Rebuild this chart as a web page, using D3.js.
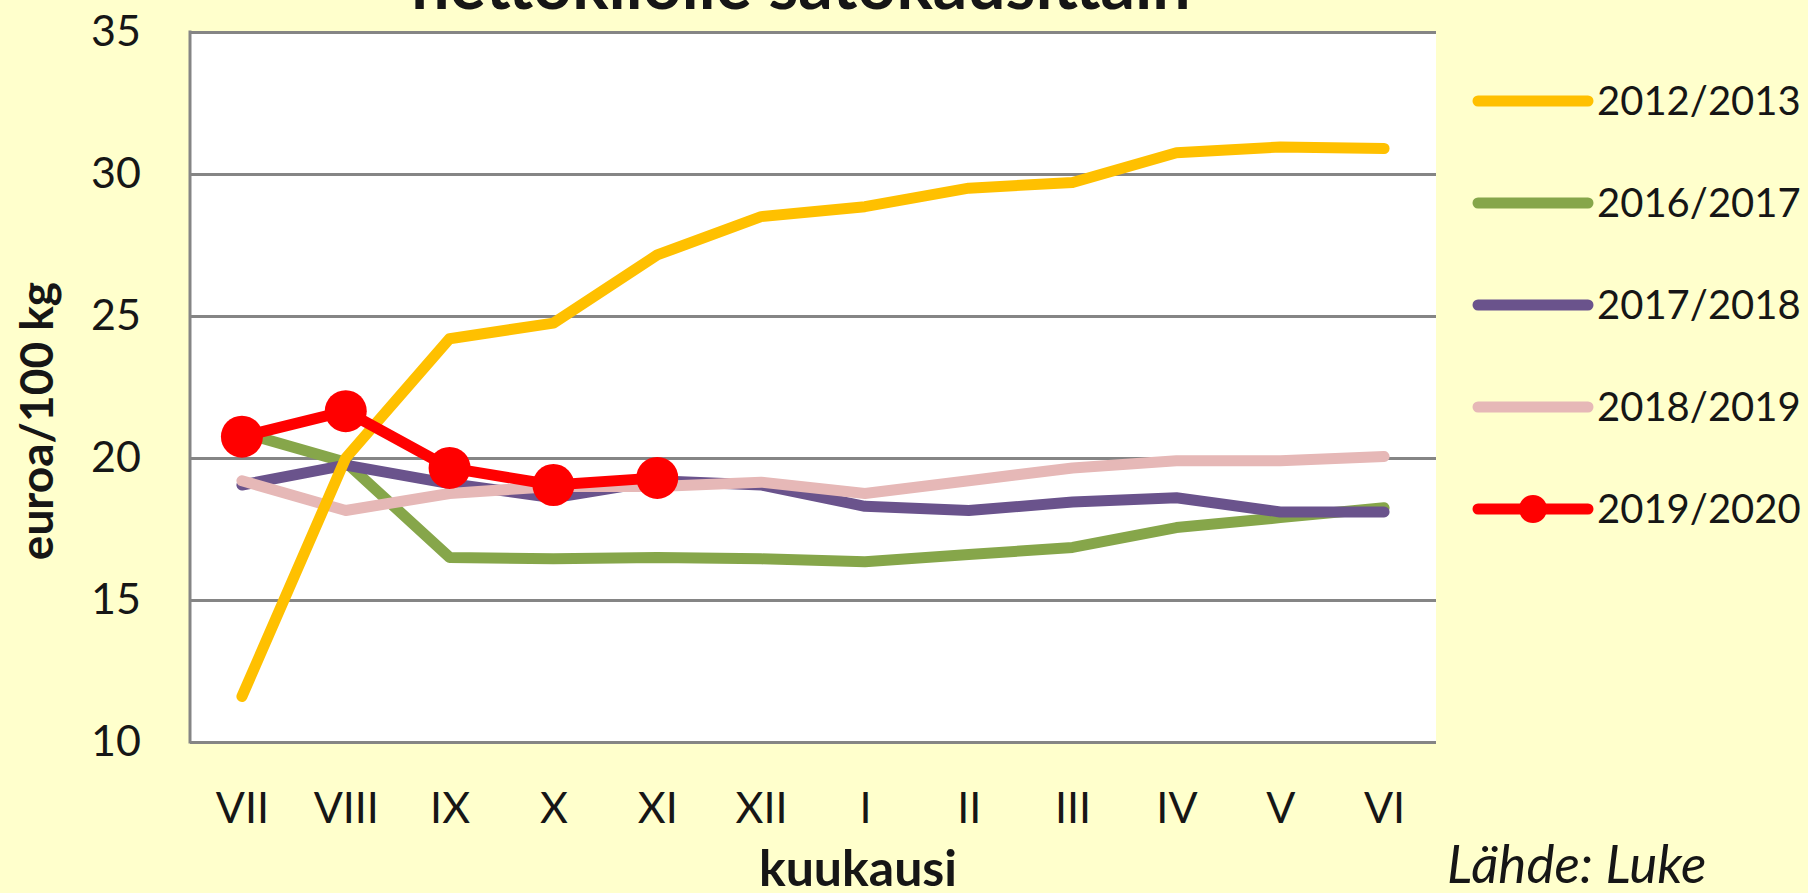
<!DOCTYPE html>
<html>
<head>
<meta charset="utf-8">
<script src="https://cdn.jsdelivr.net/npm/d3@7"></script>
<style>
  html, body { margin: 0; padding: 0; background: #ffffcc; }
  svg { display: block; font-family: Lato, 'Open Sans', sans-serif; }
</style>
</head>
<body>
<svg width="1808" height="893"></svg>
<script>
// kuukaudet satokauden järjestyksessä
const months = ['VII', 'VIII', 'IX', 'X', 'XI', 'XII', 'I', 'II', 'III', 'IV', 'V', 'VI']
const yTicks = [10, 15, 20, 25, 30, 35]

const seasons = ['2012/2013', '2016/2017', '2017/2018', '2018/2019', '2019/2020']
const colors = ['#ffc000', '#86a64a', '#6a538c', '#e6b8b7', '#ff0000']

const v2012 = [11.6, 20.0, 24.2, 24.75, 27.15, 28.5, 28.85, 29.5, 29.7, 30.75, 30.95, 30.9]
const v2016 = [20.9, 19.85, 16.5, 16.45, 16.5, 16.45, 16.35, 16.6, 16.85, 17.55, 17.9, 18.25]
const v2017 = [19.05, 19.75, 19.1, 18.6, 19.2, 19.05, 18.3, 18.15, 18.45, 18.6, 18.1, 18.1]
const v2018 = [19.2, 18.15, 18.75, 19.0, 19.0, 19.15, 18.75, 19.2, 19.65, 19.9, 19.9, 20.05]
const v2019 = [20.75, 21.65, 19.65, 19.05, 19.3]

const values = [v2012, v2016, v2017, v2018, v2019]
const series = seasons.map((name, i) => ({
  name,
  color: colors[i],
  values: values[i],
  markers: name == '2019/2020',
}))
// piirtojärjestys: keltainen vihreän/violetin/vaaleanpunaisen päälle, punainen ylimmäksi
const drawOrder = [1, 2, 3, 0, 4]

const plot = { left: 190, right: 1436, top: 32, bottom: 742 }
const grid = '#858585'
const ink = '#161616'

const svg = d3.select('svg')

const x = d3.scalePoint().domain(months).range([plot.left, plot.right]).padding(0.5)
const y = d3.scaleLinear().domain([10, 35]).range([plot.bottom, plot.top])

svg.append('rect')
  .attr('x', plot.left).attr('y', plot.top)
  .attr('width', plot.right - plot.left).attr('height', plot.bottom - plot.top)
  .attr('fill', '#fff')

// vaakaviivat + y-akselin luvut
const yAxis = svg.append('g')
  .attr('transform', `translate(${ plot.left },0)`)
  .call(d3.axisLeft(y).tickValues(yTicks).tickSize(-(plot.right - plot.left)).tickPadding(49))
yAxis.select('.domain').remove()
yAxis.selectAll('line').attr('stroke', grid).attr('stroke-width', 3)
yAxis.selectAll('text')
  .attr('font-size', 43).attr('fill', ink).attr('font-family', 'Lato')

svg.append('line')
  .attr('x1', plot.left).attr('x2', plot.left)
  .attr('y1', plot.top - 1.5).attr('y2', plot.bottom + 1.5)
  .attr('stroke', grid).attr('stroke-width', 3)

const xAxis = svg.append('g')
  .attr('transform', `translate(0,${ plot.bottom })`)
  .call(d3.axisBottom(x).tickSize(0).tickPadding(50))
xAxis.select('.domain').remove()
xAxis.selectAll('text')
  .attr('font-size', 43).attr('fill', ink).attr('font-family', 'Lato')

const line = d3.line()
  .x((d, i) => x(months[i]))
  .y(d => y(d))

const lines = svg.append('g')
drawOrder.map(i => series[i]).forEach(s => {
  lines.append('path')
    .datum(s.values)
    .attr('d', line)
    .attr('fill', 'none')
    .attr('stroke', s.color)
    .attr('stroke-width', 11)
    .attr('stroke-linejoin', 'round')
    .attr('stroke-linecap', 'round')
  if (s.markers) {
    lines.selectAll(null)
      .data(s.values).join('circle')
      .attr('cx', (d, i) => x(months[i]))
      .attr('cy', d => y(d))
      .attr('r', 21)
      .attr('fill', s.color)
  }
})

// selite
const legend = svg.append('g').attr('transform', 'translate(1478, 101)')
const rows = legend.selectAll('g')
  .data(series).join('g')
  .attr('transform', (d, i) => `translate(0,${ i * 102 })`)
rows.append('line')
  .attr('x1', 0).attr('x2', 110)
  .attr('stroke', d => d.color)
  .attr('stroke-width', 11)
  .attr('stroke-linecap', 'round')
rows.filter(d => d.markers).append('circle')
  .attr('cx', 55).attr('r', 14)
  .attr('fill', d => d.color)
rows.append('text')
  .attr('x', 119).attr('dy', '0.36em')
  .attr('font-size', 40).attr('fill', ink)
  .text(d => d.name)

// otsikon alarivi (yläosa leikkautuu kuvan reunaan)
svg.append('text')
  .attr('x', 801).attr('y', 9)
  .attr('text-anchor', 'middle')
  .attr('font-size', 68).attr('font-weight', 700).attr('fill', ink)
  .text('nettokilolle satokausittain')

svg.append('text')
  .attr('transform', 'translate(53,421) rotate(-90)')
  .attr('text-anchor', 'middle')
  .attr('font-size', 46).attr('font-weight', 700).attr('fill', ink)
  .text('euroa/100 kg')

svg.append('text')
  .attr('x', 858).attr('y', 886)
  .attr('text-anchor', 'middle')
  .attr('font-size', 50).attr('font-weight', 700).attr('fill', ink)
  .text('kuukausi')

svg.append('text')
  .attr('x', 1447).attr('y', 883)
  .attr('font-size', 53).attr('font-style', 'italic').attr('fill', ink)
  .text('Lähde: Luke')
</script>
</body>
</html>
